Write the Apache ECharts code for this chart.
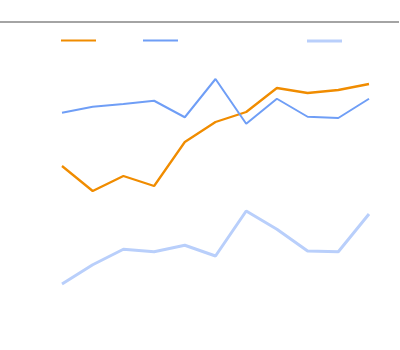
<!DOCTYPE html>
<html>
<head>
<meta charset="utf-8">
<script src="https://cdn.jsdelivr.net/npm/echarts@6/dist/echarts.min.js"></script>
<style>
  html, body { margin: 0; padding: 0; background: #fff; }
  #chart { width: 400px; height: 350px; }
</style>
</head>
<body>
<div id="chart"></div>
<script>
// Eleven periods along the horizontal axis
const categories = ['1', '2', '3', '4', '5', '6', '7', '8', '9', '10', '11'];

// Series values
const seriesA = [53.6, 43.6, 49.6, 45.6, 63.2, 71.2, 75.2, 84.8, 82.8, 84.0, 86.4];
const seriesB = [74.9, 77.3, 78.4, 79.7, 73.1, 88.4, 70.5, 80.5, 73.3, 72.8, 80.5];
const seriesC = [6.4, 14.1, 20.3, 19.3, 21.9, 17.6, 35.6, 28.3, 19.6, 19.3, 34.4];

const names = ['A', 'B', 'C'];
const colors = ['#f08c00', '#6f9ef6', '#b9cffb'];
const widths = [2.3, 2, 3];
const values = [seriesA, seriesB, seriesC];
const legendLeft = [61, 143, 307];

const chart = echarts.init(document.getElementById('chart'), null, { renderer: 'canvas' });

chart.setOption({
  animation: false,
  backgroundColor: '#ffffff',
  grid: { left: 62, right: 31, top: 50, bottom: 50 },
  xAxis: {
    type: 'category',
    data: categories,
    boundaryGap: false,
    show: false
  },
  yAxis: {
    type: 'value',
    min: 0,
    max: 100,
    show: false
  },
  // One legend block per series: a plain stroke swatch, no label
  legend: names.map((n, i) => ({
    data: [n],
    left: legendLeft[i],
    top: 39.5,
    padding: 0,
    icon: 'rect',
    itemWidth: 35,
    itemHeight: Math.round(widths[i]),
    formatter: () => '',
    textStyle: { color: 'transparent', fontSize: 12 }
  })),
  graphic: [{
    type: 'line',
    shape: { x1: 0, y1: 22, x2: 399, y2: 22 },
    style: { stroke: '#a4a4a4', lineWidth: 2 },
    silent: true
  }],
  series: names.map((n, i) => ({
    name: n,
    type: 'line',
    data: values[i],
    symbol: 'none',
    showSymbol: false,
    color: colors[i],
    lineStyle: { color: colors[i], width: widths[i] }
  }))
});
</script>
</body>
</html>
